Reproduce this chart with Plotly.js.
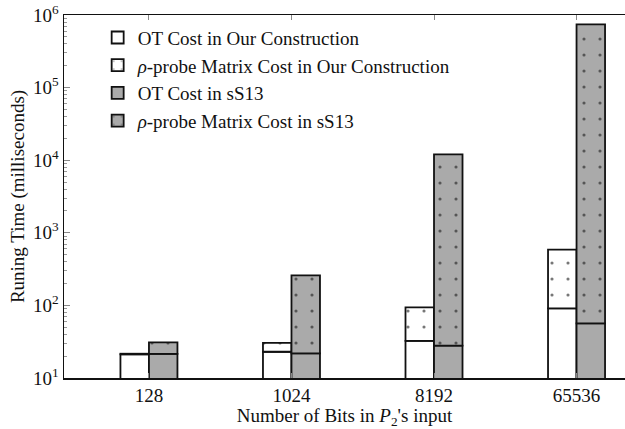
<!DOCTYPE html>
<html>
<head>
<meta charset="utf-8">
<script src="https://cdn.plot.ly/plotly-3.0.1.min.js"></script>
<style>html,body{margin:0;padding:0;background:#fff;}#chart{width:625px;height:429px;}</style>
</head>
<body>
<div id="chart"></div>
<script>
// Data (milliseconds)
const categories = ["128", "1024", "8192", "65536"];
const ourOT      = [21.2, 23, 32.4, 91];
const ourMatrix  = [0.4, 7.4, 61.6, 494];
const sOT        = [21.5, 21.9, 27.9, 56.6];
const sMatrix    = [9.5, 238, 12020, 744000];
const yTickVals  = [10, 100, 1000, 10000, 100000, 1000000];
const yTickText  = ["10<sup>1</sup>", "10<sup>2</sup>", "10<sup>3</sup>", "10<sup>4</sup>", "10<sup>5</sup>", "10<sup>6</sup>"];
const legendNames = [
  "OT Cost in Our Construction",
  "<i>ρ</i>-probe Matrix Cost in Our Construction",
  "OT Cost in sS13",
  "<i>ρ</i>-probe Matrix Cost in sS13"
];

const FONT = "'Liberation Serif', 'DejaVu Serif', 'Times New Roman', serif";
const xIdx = categories.map((c, i) => i);
const lineStyle = {color: "#111", width: 1.8};
const W = 0.2;

const traces = [
  {type: "bar", name: legendNames[0], x: xIdx, y: ourOT, width: W, offset: -W,
   marker: {color: "#ffffff", line: lineStyle}},
  {type: "bar", name: legendNames[1], x: xIdx, y: ourMatrix, base: ourOT, width: W, offset: -W,
   marker: {color: "#ffffff", line: lineStyle,
            pattern: {shape: ".", bgcolor: "#ffffff", fgcolor: "#777", size: 16, solidity: 0.03, fillmode: "replace"}}},
  {type: "bar", name: legendNames[2], x: xIdx, y: sOT, width: W, offset: 0,
   marker: {color: "#aaaaaa", line: lineStyle}},
  {type: "bar", name: legendNames[3], x: xIdx, y: sMatrix, base: sOT, width: W, offset: 0,
   marker: {color: "#aaaaaa", line: lineStyle,
            pattern: {shape: ".", bgcolor: "#aaaaaa", fgcolor: "#555", size: 16, solidity: 0.03, fillmode: "replace"}}}
];

const layout = {
  width: 625, height: 429,
  margin: {l: 64, r: 0, t: 15, b: 51},
  paper_bgcolor: "#fff", plot_bgcolor: "#fff",
  barmode: "overlay",
  font: {family: FONT, color: "#111", size: 18},
  showlegend: true,
  legend: {x: 0.06, y: 0.99, xanchor: "left", yanchor: "top",
           bgcolor: "rgba(0,0,0,0)", font: {family: FONT, size: 19, color: "#111"},
           traceorder: "normal"},
  xaxis: {
    range: [-0.596, 3.34],
    tickmode: "array", tickvals: xIdx, ticktext: categories,
    ticks: "inside", ticklen: 5, tickcolor: "#888",
    showline: true, linecolor: "#111", linewidth: 1.5, mirror: "ticks",
    showgrid: false, zeroline: false,
    tickfont: {family: FONT, size: 19, color: "#111"},
    title: {text: "Number of Bits in <i>P</i><sub>2</sub>'s input", font: {family: FONT, size: 19, color: "#111"}, standoff: 3}
  },
  yaxis: {
    type: "log", range: [1, 6],
    tickmode: "array", tickvals: yTickVals, ticktext: yTickText,
    ticks: "inside", ticklen: 6, tickcolor: "#888",
    minor: {ticks: "inside", ticklen: 3, tickcolor: "#999", dtick: "D1", showgrid: false},
    showline: true, linecolor: "#111", linewidth: 1.5, mirror: false,
    showgrid: false, zeroline: false,
    tickfont: {family: FONT, size: 19, color: "#111"},
    title: {text: "Runing Time (milliseconds)", font: {family: FONT, size: 19, color: "#111"}, standoff: 3}
  }
};

Plotly.newPlot("chart", traces, layout, {displayModeBar: false, staticPlot: true});
</script>
</body>
</html>
